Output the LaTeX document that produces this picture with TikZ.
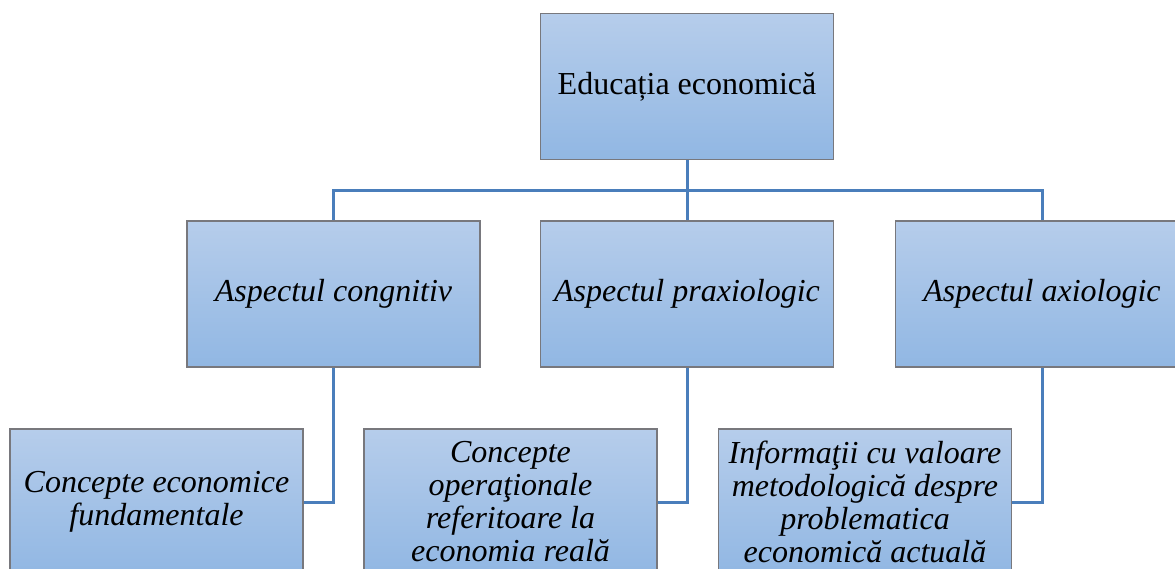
\documentclass[tikz,border=0pt]{standalone}
\usepackage{fontspec}
\setmainfont{Liberation Serif}
\definecolor{boxtop}{RGB}{182,205,235}
\definecolor{boxbot}{RGB}{145,183,227}
\definecolor{boxline}{RGB}{120,120,125}
\definecolor{conn}{RGB}{74,126,187}
\tikzset{
  orgbox/.style={draw=boxline, line width=1.3pt, top color=boxtop, bottom color=boxbot,
    minimum width=293pt, minimum height=146pt, inner sep=0pt, align=center,
    font=\fontsize{32}{33}\selectfont},
  itbox/.style={orgbox, font=\fontsize{32}{33}\selectfont\itshape},
  link/.style={draw=conn, line width=3pt}
}
\begin{document}
\begin{tikzpicture}[x=1pt,y=-1pt]
\useasboundingbox (0,0) rectangle (1175,569);
\clip (0,0) rectangle (1175,569);
\node[orgbox] (top) at (687,86.5) {Educația economică};
\node[itbox] (A) at (333.5,294) {Aspectul congnitiv};
\node[itbox] (B) at (687,294) {Aspectul praxiologic};
\node[itbox] (C) at (1042,294) {Aspectul axiologic};
\node[itbox] (D) at (156.5,502) {Concepte economice\\fundamentale};
\node[itbox] (E) at (510.5,502) {Concepte\\operaţionale\\referitoare la\\economia reală};
\node[itbox] (F) at (865,502) {Informaţii cu valoare\\metodologică despre\\problematica\\economică actuală};
\coordinate (bus) at (687,190.5);
\draw[link] (top.south) -- (bus);
\draw[link] (A.north) |- (bus) -| (C.north);
\draw[link] (bus) -- (B.north);
\draw[link] (A.south) |- (D.east);
\draw[link] (B.south) |- (E.east);
\draw[link] (C.south) |- (F.east);
\end{tikzpicture}
\end{document}
